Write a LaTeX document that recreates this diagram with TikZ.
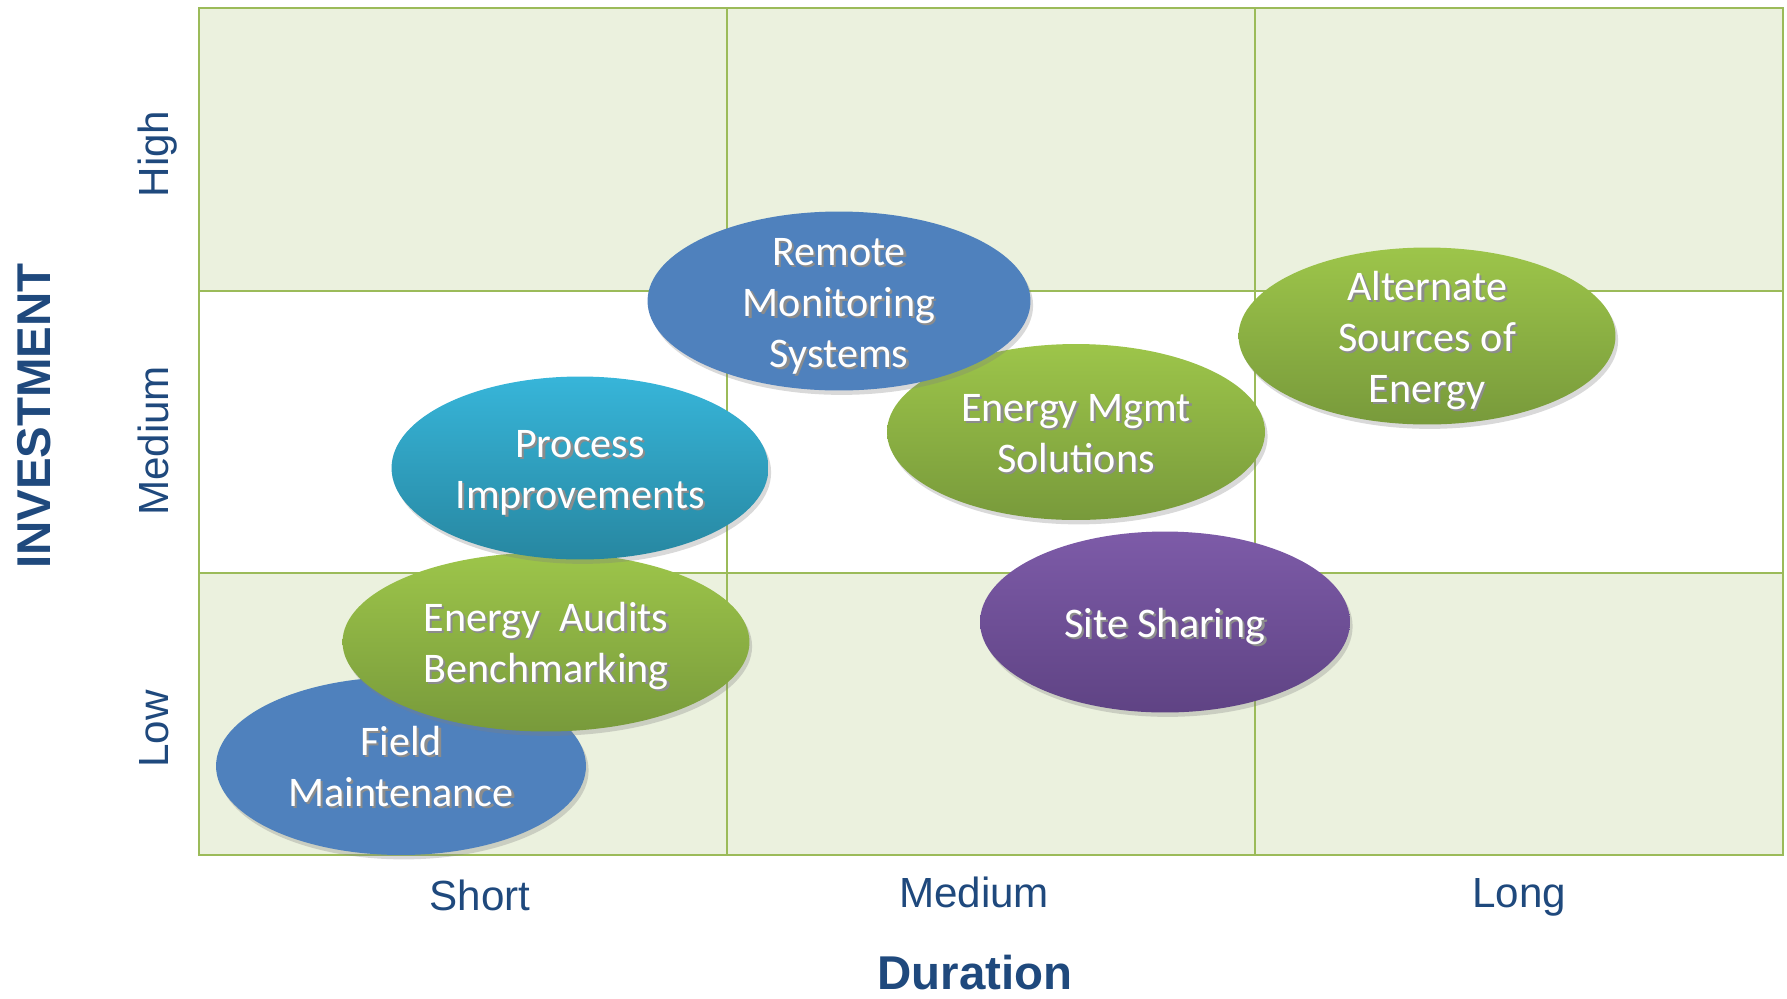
\documentclass[tikz,border=0pt]{standalone}
\usepackage{fontspec}
\setmainfont{Liberation Sans}
\newfontfamily\blobfont{Carlito}
\usetikzlibrary{shapes.geometric,shadows}
\definecolor{gridline}{HTML}{9BBB59}
\definecolor{cellfill}{HTML}{EBF1DE}
\definecolor{axisblue}{HTML}{1F497D}
\definecolor{flatblue}{HTML}{4F81BD}
\definecolor{grntop}{HTML}{9DC54A}
\definecolor{grnbot}{HTML}{789A3B}
\definecolor{cyantop}{HTML}{37B5D9}
\definecolor{cyanbot}{HTML}{2787A1}
\definecolor{purtop}{HTML}{7D5BA8}
\definecolor{purbot}{HTML}{5F4384}
% white text with a soft dark shadow, kept out of the node size
\newcommand{\wtext}[1]{\smash{\lower9pt\hbox{%
  \rlap{\kern1.3pt\lower1.3pt\hbox{\color{black!45}\begin{tabular}{@{}c@{}}#1\end{tabular}}}%
  \color{white}\begin{tabular}{@{}c@{}}#1\end{tabular}}}}

\begin{document}
\begin{tikzpicture}[
		x=0.02cm,y=-0.02cm,
		blob/.style={ellipse,inner sep=0pt,font=\blobfont\fontsize{24}{29}\selectfont,
			drop shadow={opacity=0.3,shadow xshift=1.5pt,shadow yshift=-2.5pt}},
		blueblob/.style={blob,fill=flatblue},
		greenblob/.style={blob,top color=grntop,bottom color=grnbot},
		cyanblob/.style={blob,top color=cyantop,bottom color=cyanbot},
		purpleblob/.style={blob,top color=purtop,bottom color=purbot},
		ticklabel/.style={text=axisblue,font=\fontsize{24}{28}\selectfont,anchor=base,inner sep=0pt},
		axistitle/.style={text=axisblue,font=\bfseries\fontsize{27}{32}\selectfont,anchor=base,inner sep=0pt},
		]
		\useasboundingbox (0,0) rectangle (1787,998);
		
		% grid: shaded top and bottom rows
		\fill[cellfill] (199,8) rectangle (1783,291);
		\fill[cellfill] (199,573) rectangle (1783,855);
		\draw[gridline,line width=1.5pt] (199,8) rectangle (1783,855);
		\foreach \gx in {727,1255}
		{\draw[gridline,line width=1.5pt] (\gx,8) -- (\gx,855);}
		\foreach \gy in {291,573}
		{\draw[gridline,line width=1.5pt] (199,\gy) -- (1783,\gy);}
		
		% axis labels
		\node[axistitle,rotate=90] (invest) at (50,416) {INVESTMENT};
		\node[ticklabel,rotate=90] (yhigh) at (168,154) {High};
		\node[ticklabel,rotate=90] (ymed) at (168,441) {Medium};
		\node[ticklabel,rotate=90] (ylow) at (168,729) {Low};
		\node[ticklabel] (xshort) at (480,910) {Short};
		\node[ticklabel] (xmed) at (974,907) {Medium};
		\node[ticklabel] (xlong) at (1519,907) {Long};
		\node[axistitle] (dur) at (975,989) {Duration};
		
		% initiatives
		\node[blueblob,minimum width=7.4cm,minimum height=3.56cm] (field) at (401,766)
		{\wtext{Field\\Maintenance}};
		\node[greenblob,minimum width=8.14cm,minimum height=3.58cm] (audits) at (546,642)
		{\wtext{Energy\ \ Audits\\Benchmarking}};
		\node[cyanblob,minimum width=7.54cm,minimum height=3.66cm] (process) at (580,468)
		{\wtext{Process\\Improvements}};
		\node[greenblob,minimum width=7.56cm,minimum height=3.52cm] (mgmt) at (1076,432)
		{\wtext{Energy Mgmt\\Solutions}};
		\node[blueblob,minimum width=7.66cm,minimum height=3.58cm] (remote) at (839,301)
		{\wtext{Remote\\Monitoring\\Systems}};
		\node[greenblob,minimum width=7.54cm,minimum height=3.54cm] (altsrc) at (1427,336)
		{\wtext{Alternate\\Sources of\\Energy}};
		\node[purpleblob,minimum width=7.4cm,minimum height=3.62cm] (site) at (1165,622)
		{\wtext{Site Sharing}};
\end{tikzpicture}
\end{document}
